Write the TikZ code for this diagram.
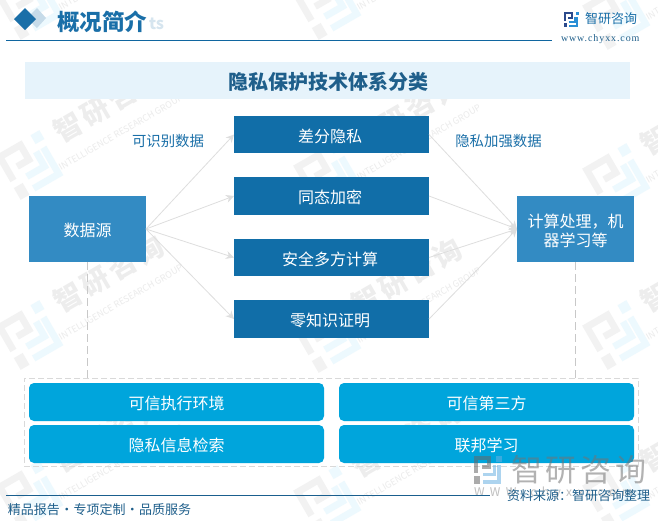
\documentclass[tikz,border=0pt]{standalone}
\usepackage{fontspec}
\usetikzlibrary{arrows.meta,fit}
\setmainfont{Noto Sans CJK SC}
\newfontfamily\wmfont[LetterSpace=12]{Noto Sans CJK SC}
\newfontfamily\sitefont[LetterSpace=9]{Liberation Serif}
\definecolor{hdr}{HTML}{1A6FA8}
\definecolor{rule1}{HTML}{1066A0}
\definecolor{rule2}{HTML}{1A5F8E}
\definecolor{band}{HTML}{E6F3FB}
\definecolor{method}{HTML}{116EA8}
\definecolor{endbox}{HTML}{338BC3}
\definecolor{pill}{HTML}{00A5DC}
\definecolor{arrowgray}{HTML}{DEDEDE}
\definecolor{dashgray}{HTML}{C8C8C8}
\definecolor{framegray}{HTML}{D9D9D9}
\definecolor{titlec}{HTML}{1F5F8B}
\definecolor{navy}{HTML}{2B4A8C}
\definecolor{lblue}{HTML}{2A8FD6}
\newcommand{\mtxt}[1]{\hspace*{-3pt}\raisebox{-3.5pt}[8pt][0pt]{#1}}
\newcommand{\dtxt}[1]{\raisebox{-3.5pt}[8pt][0pt]{#1}}
\newcommand{\ltxt}[1]{\raisebox{-4pt}[8pt][0pt]{#1}}
\tikzset{
  x=1pt,y=-1pt,
  every node/.style={inner sep=0pt,outer sep=0pt},
  methodbox/.style={fill=method,text=white,minimum width=195pt,font=\fontsize{16}{19}\selectfont},
  endpoint/.style={fill=endbox,text=white,minimum width=117pt,minimum height=66pt,align=center,font=\fontsize{16}{19}\selectfont},
  pillbox/.style={fill=pill,text=white,rounded corners=5pt,minimum width=295pt,minimum height=38pt,font=\fontsize{16}{19}\selectfont},
  flow/.style={draw=arrowgray,line width=0.8pt,-{Stealth[length=8pt,width=8pt]}},
  link/.style={draw=dashgray,line width=0.9pt,dash pattern=on 8pt off 4pt},
  note/.style={text=hdr,font=\fontsize{14.4}{17}\selectfont},
}
% logo drawn on a 15x15 grid centred on the origin
\newcommand{\logomark}[3]{%
  \begin{scope}[scale=#1,shift={(-7.5,-7.5)},line cap=butt]
    \draw[#2,line width=2*#1 pt] (1,9) -- (1,1) -- (8,1) -- (8,6) -- (4,6);
    \fill[#2] (0,11) rectangle (3,15);
    \fill[#3] (12,0) rectangle (15,3);
    \draw[#3,line width=2*#1 pt] (13.5,5) -- (13.5,14) -- (5,14);
    \draw[#3,line width=2*#1 pt] (5,10) -- (11,10) -- (11,5);
  \end{scope}}
\newcommand{\wmark}[2]{%
  \begin{scope}[shift={(#1,#2)},rotate=30,transform shape]
    \logomark{3.4}{black!5}{cyan!7}
    \node[text=black!7,font=\wmfont\fontsize{28}{30}\selectfont\bfseries] at (99,-14) {智研咨询};
    \node[text=black!8,font=\fontsize{9}{10}\selectfont] at (95,17) {INTELLIGENCE RESEARCH GROUP};
  \end{scope}}
\begin{document}
\begin{tikzpicture}
\useasboundingbox (0,0) rectangle (658,520);
\begin{scope}
  \clip (0,0) rectangle (658,520);
  \fill[white] (0,0) rectangle (658,520);
  \foreach \px/\py in {30/5,30/165,30/335,30/495,328/5,328/175,328/338,328/500,617/15,617/178,617/335,617/495}{\wmark{\px}{\py}}
\end{scope}

% header
\fill[hdr!25] (37,8) -- (46,18) -- (37,28) -- (27,18) -- cycle;
\fill[hdr] (25,8) -- (36,19) -- (25,30) -- (14,19) -- cycle;
\node[text=hdr!18,font=\fontsize{16}{18}\selectfont\bfseries,anchor=west] (ghost) at (149,24) {ts};
\node[text=hdr,font=\fontsize{22.5}{24}\selectfont\bfseries,anchor=west] (head) at (57,22) {概况简介};
\draw[rule1,line width=1pt] (6,40.5) -- (552,40.5);
\begin{scope}[shift={(571,19.5)}]\logomark{1}{navy}{lblue}\end{scope}
\node[text=hdr,font=\fontsize{13}{15}\selectfont,anchor=west] (brand) at (585,19) {智研咨询};
\node[text=titlec,font=\sitefont\fontsize{10}{11}\selectfont,anchor=west] (site) at (561,39) {www.chyxx.com};

% title band
\node[fill=band,minimum width=605pt,minimum height=37pt] (band) at (327.5,80.5) {};
\node[text=titlec,font=\fontsize{20}{22}\selectfont\bfseries] (title) at (328,82) {隐私保护技术体系分类};

% main nodes
\node[endpoint] (src) at (87.5,229) {\dtxt{数据源}};
\node[endpoint] (dst) at (575.5,229) {\ltxt{计算处理，机}\\\ltxt{器学习等}};
\node[methodbox,minimum height=37pt] (m1) at (331.5,134.5) {\mtxt{差分隐私}};
\node[methodbox,minimum height=38pt] (m2) at (331.5,196) {\mtxt{同态加密}};
\node[methodbox,minimum height=37pt] (m3) at (331.5,257.5) {\mtxt{安全多方计算}};
\node[methodbox,minimum height=38pt] (m4) at (331.5,319) {\mtxt{零知识证明}};
\node[note] (n1) at (168,141) {可识别数据};
\node[note] (n2) at (498.5,141) {隐私加强数据};

\foreach \m in {m1,m2,m3,m4}{
  \draw[flow] (src.east) -- (\m.west);
  \draw[flow] (\m.east) -- (dst.west);
}

% lower frame
\node[pillbox] (p1) at (176.5,402) {\dtxt{可信执行环境}};
\node[pillbox] (p2) at (486.5,402) {\dtxt{可信第三方}};
\node[pillbox] (p3) at (176.5,444) {\dtxt{隐私信息检索}};
\node[pillbox] (p4) at (486.5,444) {\dtxt{联邦学习}};
\node[draw=framegray,line width=0.9pt,dash pattern=on 6pt off 3pt,minimum width=614pt,minimum height=88pt] (frame) at (331,422) {};
\draw[link] (src.south) -- (src.south |- frame.north);
\draw[link] (dst.south) -- (dst.south |- frame.north);

% stamp
\begin{scope}[opacity=0.55]
  \begin{scope}[shift={(488,470)}]\logomark{1.85}{black!60}{lblue!70}\end{scope}
  \node[text=black!55,font=\wmfont\fontsize{31}{33}\selectfont,anchor=west] (stamp) at (511,470) {智研咨询};
  \node[text=black!45,font=\fontsize{12}{14}\selectfont,anchor=west] (stampsite) at (474,493) {W\ \ W\ \ W\ \ .\ \ c\ \ h\ \ y\ \ x\ \ x\ \ .\ \ c\ \ o\ \ m};
\end{scope}

% footer
\draw[rule2,line width=1pt] (6,495.5) -- (490,495.5);
\node[text=titlec,font=\fontsize{13}{15}\selectfont,anchor=west] (foot) at (8,510) {精品报告\hspace{0.3pt}·\hspace{0.3pt}专项定制\hspace{0.3pt}·\hspace{0.3pt}品质服务};
\node[text=titlec,font=\fontsize{13}{15}\selectfont,anchor=east] (source) at (650,496) {资料来源：智研咨询整理};
\end{tikzpicture}
\end{document}
